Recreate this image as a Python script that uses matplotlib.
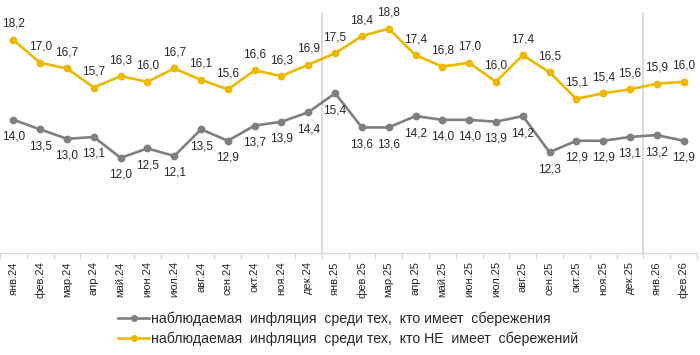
import matplotlib
matplotlib.use("Agg")
import matplotlib.pyplot as plt
import numpy as np

months = ["янв", "фев", "мар", "апр", "май", "июн", "июл", "авг", "сен", "окт", "ноя", "дек"]
categories = [f"{m}.24" for m in months] + [f"{m}.25" for m in months] + ["янв.26", "фев.26"]

with_savings = [14.0, 13.5, 13.0, 13.1, 12.0, 12.5, 12.1, 13.5, 12.9, 13.7, 13.9, 14.4,
                15.4, 13.6, 13.6, 14.2, 14.0, 14.0, 13.9, 14.2, 12.3, 12.9, 12.9, 13.1,
                13.2, 12.9]
without_savings = [18.2, 17.0, 16.7, 15.7, 16.3, 16.0, 16.7, 16.1, 15.6, 16.6, 16.3, 16.9,
                   17.5, 18.4, 18.8, 17.4, 16.8, 17.0, 16.0, 17.4, 16.5, 15.1, 15.4, 15.6,
                   15.9, 16.0]
label_with = "наблюдаемая  инфляция  среди тех,  кто имеет  сбережения"
label_without = "наблюдаемая  инфляция  среди тех,  кто НЕ  имеет  сбережений"

plt.rcParams['font.family'] = ['Liberation Sans', 'DejaVu Sans']

GRAY = "#7f7f7f"
GOLD = "#ecb800"

fig = plt.figure(figsize=(7.0, 3.55), dpi=100)
ax = fig.add_axes([0.0, 102/355, 697/700, 253/355])

x = np.arange(len(categories))
ax.plot(x, with_savings, color=GRAY, lw=1.9, marker="o", ms=4.6, label=label_with)
ax.plot(x, without_savings, color=GOLD, lw=1.9, marker="o", ms=4.6, label=label_without)

for xi, v in zip(x, with_savings):
    ax.annotate(f"{v:.1f}".replace(".", ","), (xi, v), xytext=(0, -17), textcoords="offset pixels",
                ha="center", va="center", fontsize=8.5, color="#262626")
for xi, v in zip(x, without_savings):
    ax.annotate(f"{v:.1f}".replace(".", ","), (xi, v), xytext=(0, 16), textcoords="offset pixels",
                ha="center", va="center", fontsize=8.5, color="#262626")

ax.set_xlim(-0.5, len(categories) - 0.5)
ax.set_ylim(7.0, 20.3)

# separators between years
sep_top = 20.3 - 13/19.03
for sx in [11.5, 23.5]:
    ax.plot([sx, sx], [7.0, sep_top], color="#d9d9d9", lw=1.3, zorder=0)

for s in ["top", "right", "left"]:
    ax.spines[s].set_visible(False)
ax.spines["bottom"].set_color("#d9d9d9")
ax.spines["bottom"].set_linewidth(1.0)
ax.set_yticks([])

ax.set_xticks(x)
ax.set_xticklabels(categories, rotation=90, fontsize=8, color="#262626")
ax.tick_params(axis="x", which="major", length=0, pad=6)
ax.set_xticks(np.arange(-0.5, len(categories), 1.0), minor=True)
ax.tick_params(axis="x", which="minor", length=4, color="#d9d9d9", width=1.0)

leg = fig.legend(loc="upper left", bbox_to_anchor=(118/700, 1 - 312/355), frameon=False,
                 fontsize=10.2, handlelength=2.2, handletextpad=0.1, labelspacing=0.36,
                 borderpad=0, borderaxespad=0)
for h in leg.legend_handles:
    h.set_markersize(4)
for t in leg.get_texts():
    t.set_color("#262626")

fig.savefig("out.png", dpi=100)
